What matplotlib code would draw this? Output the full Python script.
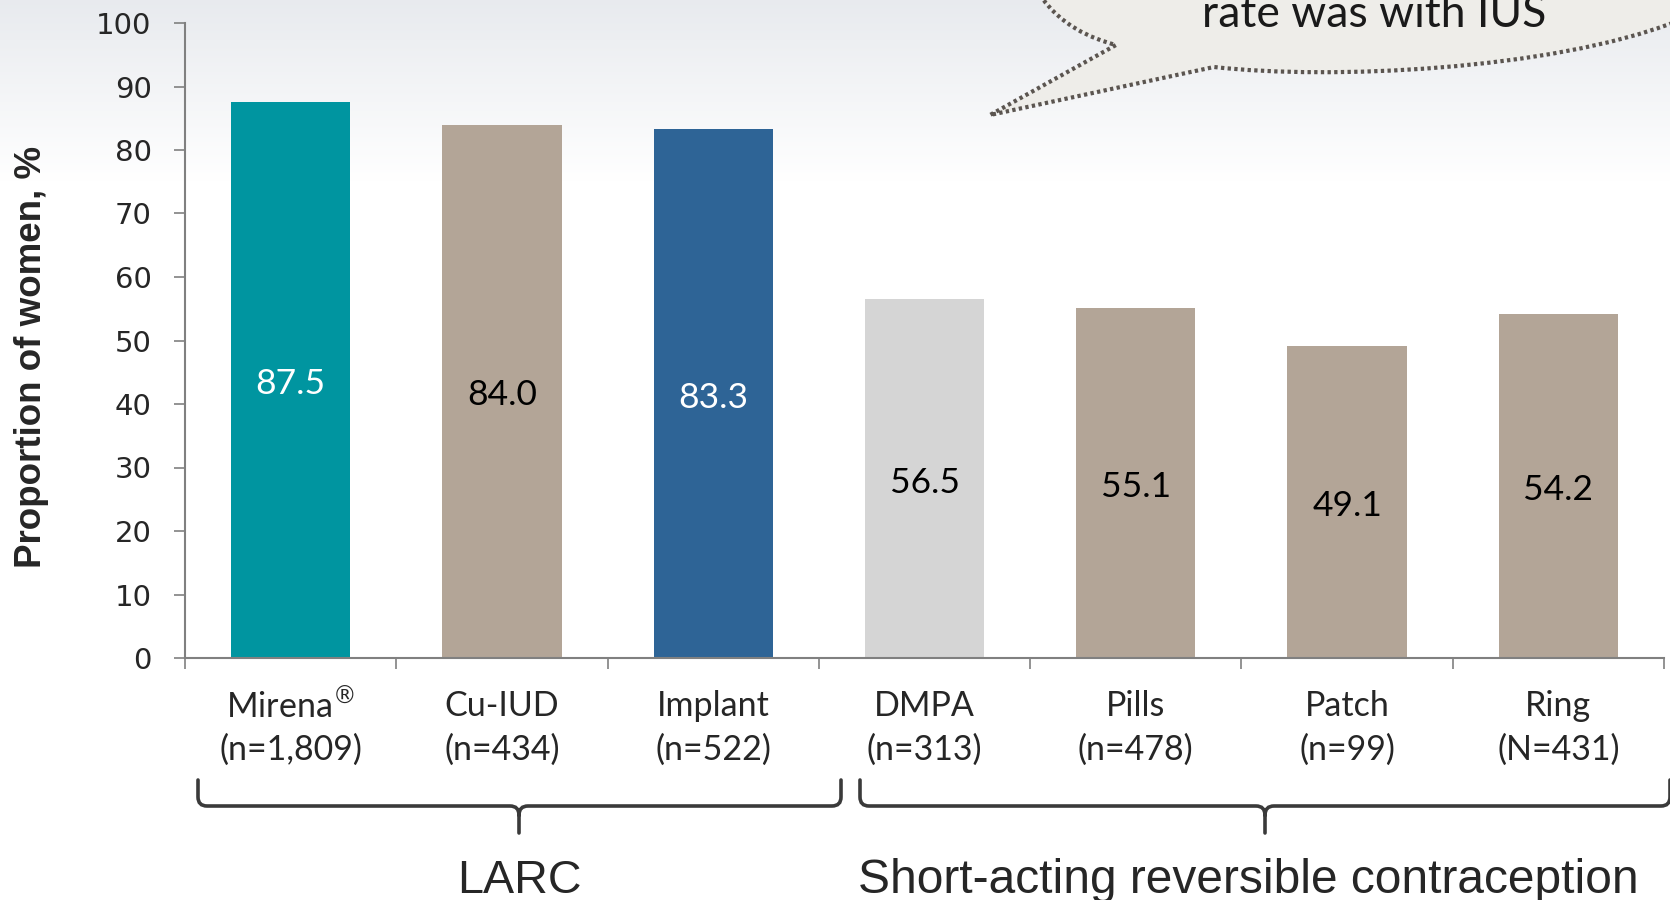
import numpy as np
import matplotlib.pyplot as plt
from matplotlib import font_manager
from matplotlib.path import Path
from matplotlib.patches import PathPatch

# values
methods = ["Mirena", "Cu-IUD", "Implant", "DMPA", "Pills", "Patch", "Ring"]
sample_sizes = ["(n=1,809)", "(n=434)", "(n=522)", "(n=313)", "(n=478)", "(n=99)", "(N=431)"]
proportions = [87.5, 84.0, 83.3, 56.5, 55.1, 49.1, 54.2]
bar_colors = ["#0095a0", "#b3a597", "#2e6496", "#d5d5d5", "#b3a597", "#b3a597", "#b3a597"]
value_colors = ["white", "black", "white", "black", "black", "black", "black"]
groups = ["LARC", "Short-acting reversible contraception"]
callout = "rate was with IUS"

W, H = 1670, 900


def pick(*names):
    have = {f.name for f in font_manager.fontManager.ttflist}
    for n in names:
        if n in have:
            return n
    return "DejaVu Sans"


narrow = pick("Liberation Sans Narrow", "Liberation Sans")
narrow_scale = 1.0 if narrow == "Liberation Sans Narrow" else 0.82
humanist = pick("Lato", "Open Sans")


def px(x, y):
    """Figure pixel (from top-left) -> figure fraction."""
    return x / W, 1 - y / H


fig = plt.figure(figsize=(W / 100, H / 100), dpi=100)

# soft grey gradient at the top of the slide
bg = fig.add_axes([0, 0, 1, 1], zorder=-10)
grad = np.linspace(0, 1, 300)[:, None]
grad = np.clip(grad / 0.2, 0, 1)
top = np.array([0.91, 0.92, 0.935])
img = top + (1 - top) * grad[..., None]
bg.imshow(np.repeat(img, 2, axis=1), aspect="auto", extent=[0, 1, 0, 1])
bg.set_axis_off()

ax = fig.add_axes([185 / W, 1 - 658 / H, (1664 - 185) / W, (658 - 23) / H])
ax.patch.set_visible(False)

x = np.arange(len(methods))
bars = ax.bar(x, proportions, width=0.565, color=bar_colors, zorder=2)
for rect, val, c in zip(bars, proportions, value_colors):
    ax.annotate(f"{val:.1f}", (rect.get_x() + rect.get_width() / 2, val / 2),
                xytext=(0, -4), textcoords="offset pixels",
                ha="center", va="center", fontsize=25.5, color=c, family=humanist, zorder=3)

ax.set_xlim(-0.5, len(methods) - 0.5)
ax.set_ylim(0, 100)
ax.set_yticks(np.arange(0, 101, 10))
ax.set_xticks(np.arange(-0.5, len(methods), 1.0))
ax.set_xticklabels([])
ax.tick_params(axis="y", length=8, width=1.2, color="#808080", pad=16,
               labelsize=21, labelcolor="#262626")
ax.tick_params(axis="x", length=8, width=1.2, color="#808080")
for s in ["top", "right"]:
    ax.spines[s].set_visible(False)
for s in ["left", "bottom"]:
    ax.spines[s].set_color("#808080")
    ax.spines[s].set_linewidth(1.5)

# category labels (two lines)
for i, (m, n) in enumerate(zip(methods, sample_sizes)):
    name = m + r"$^{\circledR}$" if m == "Mirena" else m
    ax.text(i, (706 - 658) / -(658 - 23), name, transform=ax.get_xaxis_transform(),
            ha="center", va="center", fontsize=24.5, color="#262626", family=humanist)
    ax.text(i, (750 - 658) / -(658 - 23), n, transform=ax.get_xaxis_transform(),
            ha="center", va="center", fontsize=24.5, color="#262626", family=humanist)

fig.text(*px(32, 357), "Proportion of women, %", rotation=90, ha="center", va="center",
         fontsize=26.5, fontweight="bold", color="#262626", family="Liberation Sans")


def brace(x0, x1, xt, ytop=780, ymid=806, ytip=833, r=9):
    verts = [(x0, ytop), (x0, ymid - r), (x0, ymid), (x0 + r, ymid),
             (xt - r, ymid), (xt, ymid), (xt, ymid + r), (xt, ytip),
             (xt, ymid + r), (xt, ymid), (xt + r, ymid),
             (x1 - r, ymid), (x1, ymid), (x1, ymid - r), (x1, ytop)]
    codes = [Path.MOVETO, Path.LINETO, Path.CURVE3, Path.CURVE3,
             Path.LINETO, Path.CURVE3, Path.CURVE3, Path.LINETO,
             Path.MOVETO, Path.CURVE3, Path.CURVE3,
             Path.LINETO, Path.CURVE3, Path.CURVE3, Path.LINETO]
    p = Path([px(*v) for v in verts], codes)
    fig.add_artist(PathPatch(p, fill=False, lw=2.6, ec="#3a3a3a",
                             transform=fig.transFigure, capstyle="round"))


brace(198, 841, 519)
brace(860, 1670, 1265)
fig.text(*px(519, 893), groups[0], ha="center", va="baseline",
         fontsize=41 * narrow_scale, color="#262626", family=narrow)
fig.text(*px(1248, 893), groups[1], ha="center", va="baseline",
         fontsize=42 * narrow_scale, color="#262626", family=narrow)

# speech bubble in the top right corner
fill_verts = [(1040, -5), (1060, 25), (1090, 38), (1116, 45), (990, 115), (1214, 67),
              (1330, 80), (1550, 70), (1675, 22), (1675, -5), (1040, -5)]
fill_codes = [Path.MOVETO, Path.CURVE4, Path.CURVE4, Path.CURVE4, Path.LINETO, Path.LINETO,
              Path.CURVE4, Path.CURVE4, Path.CURVE4, Path.LINETO, Path.CLOSEPOLY]
fig.add_artist(PathPatch(Path([px(*v) for v in fill_verts], fill_codes),
                         fc="#eeede9", ec="none", transform=fig.transFigure))
fig.add_artist(PathPatch(Path([px(*v) for v in fill_verts[:9]], fill_codes[:9]),
                         fill=False, ec="#5b5550", lw=3, ls=(0, (0.8, 0.8)),
                         transform=fig.transFigure))
# the slide crops this line at the top edge
fig.text(*px(1374, 27), callout, ha="center", va="baseline", fontsize=32,
         color="#1a1a1a", family=humanist)

fig.savefig("out.png")
